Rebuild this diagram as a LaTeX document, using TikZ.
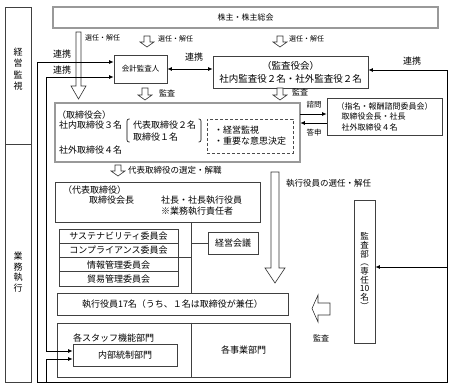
\documentclass[tikz,border=0pt]{standalone}
\usepackage{fontspec}
\setmainfont{Noto Sans CJK JP}
\usetikzlibrary{arrows.meta}

\tikzset{
  box/.style={draw=black!75, line width=0.6pt, fill=white, inner sep=0pt},
  heavybox/.style={draw=black!85, line width=0.5pt, double=black!40, double distance=1.4pt, fill=white, inner sep=0pt},
  txt/.style={font=\fontsize{9}{11}\selectfont, inner sep=0pt},
  lbl/.style={font=\fontsize{7.5}{9}\selectfont, inner sep=0pt},
  link/.style={line width=1pt, draw=black},
  hollow/.style={draw=black!80, line width=0.6pt, fill=white},
}
\newcommand{\downblock}[6]{%
  \draw[hollow] (#1-#4,#2) -- (#1+#4,#2) -- (#1+#4,#3-#6) -- (#1+#5,#3-#6)
    -- (#1,#3) -- (#1-#5,#3-#6) -- (#1-#4,#3-#6) -- cycle;}

\begin{document}
\begin{tikzpicture}[x=1pt, y=-1pt, >={Latex[length=4.5pt,width=4pt]}]
  \useasboundingbox (0,0) rectangle (453,388);
  % Spalte links
  \node[box, minimum width=26pt, minimum height=137pt] (kanshi) at (18,75.5) {};
  \node[box, minimum width=26pt, minimum height=238pt] (gyomu) at (18,263) {};
  \node[txt, align=center, font=\fontsize{9}{11.5}\selectfont] (kanshi-t) at (18,69) {経\\営\\監\\視};
  \node[txt, align=center, font=\fontsize{9}{10.5}\selectfont] (gyomu-t) at (18,272) {業\\務\\執\\行};
  % Aktionaere
  \node[heavybox, minimum width=385pt, minimum height=21pt, font=\fontsize{8}{10}\selectfont] (kabu) at (245.5,17.5) {株主・株主総会};
  \downblock{78.5}{32}{99}{2.5}{7.5}{13}
  \node[lbl, anchor=west, font=\fontsize{7}{9}\selectfont] (sel1) at (85,38) {選任・解任};
  \downblock{147}{36}{47}{3}{7}{5}
  \node[lbl, anchor=west, font=\fontsize{7}{9}\selectfont] (sel2) at (158,39) {選任・解任};
  \downblock{280}{36}{47}{3}{7}{5}
  \node[lbl, anchor=west, font=\fontsize{7}{9}\selectfont] (sel3) at (289,39) {選任・解任};
  % Pruefer
  \node[box, lbl, minimum width=53pt, minimum height=28pt] (kaikei) at (140.5,69) {会計監査人};
  \node[box, align=center, minimum width=155pt, minimum height=32pt, font=\fontsize{9.5}{13}\selectfont] (kansa) at (290.5,72) {（監査役会）\\社内監査役２名・社外監査役２名};
  \downblock{145}{88}{100}{3}{7}{5}
  \node[lbl, anchor=west, font=\fontsize{8}{10}\selectfont] (aud1) at (159,93) {監査};
  \downblock{280}{88}{100}{3}{7}{5}
  \node[lbl, anchor=west, font=\fontsize{8}{10}\selectfont] (aud2) at (292,92) {監査};
  % Vorstand
  \node[heavybox, minimum width=245pt, minimum height=59pt] (bod) at (177.5,132.5) {};
  \node[txt, anchor=west] (bod-t) at (57,115) {（取締役会）};
  \node[txt, anchor=west] (inside) at (59,125) {社内取締役３名};
  \node[txt, anchor=west] (rep2) at (133,125) {代表取締役２名};
  \node[txt, anchor=west] (dir1) at (133,137) {取締役１名};
  \node[txt, anchor=west] (outside) at (59,150) {社外取締役４名};
  \draw[rounded corners=2pt, line width=0.6pt] (129.5,119) -- (127,119) -- (127,142) -- (129.5,142);
  \draw[rounded corners=2pt, line width=0.6pt] (198.5,119) -- (201,119) -- (201,142) -- (198.5,142);
  \node[txt, draw=black!70, densely dashed, line width=0.5pt, align=left, minimum width=86pt, minimum height=34pt] (duty) at (250,136) {・経営監視\\・重要な意思決定};
  \node[box, align=left, minimum width=115pt, minimum height=37pt, font=\fontsize{8}{10.5}\selectfont] (nomi) at (384.5,116.5) {（指名・報酬諮問委員会）\\\hspace*{5pt}取締役会長・社長\\\hspace*{5pt}社外取締役４名};
  \node[lbl] (ask) at (314,105) {諮問};
  \node[lbl] (reply) at (314,133) {答申};
  % Geschaeftsfuehrung
  \downblock{118}{165}{176}{3}{7}{5}
  \node[txt, anchor=west, font=\fontsize{8.5}{10}\selectfont] (select) at (128,170) {代表取締役の選定・解職};
  \downblock{275}{172}{283}{4}{10}{15}
  \node[txt, anchor=west, font=\fontsize{8.5}{10}\selectfont] (appoint) at (286,183) {執行役員の選任・解任};
  \node[box, minimum width=205pt, minimum height=40pt] (rep) at (157.5,202) {};
  \node[txt, anchor=west] (rep-t) at (63,190) {（代表取締役）};
  \node[txt, anchor=west] (chair) at (89,200) {取締役会長};
  \node[txt, anchor=west] (pres) at (161,200) {社長・社長執行役員};
  \node[txt, anchor=west] (ceo) at (161,211) {※業務執行責任者};
  \foreach \i/\cname in {0/サステナビリティ委員会, 1/コンプライアンス委員会, 2/情報管理委員会, 3/貿易管理委員会}
    \node[box, txt, minimum width=119pt, minimum height=14.25pt] (com\i) at (118.5,236.1+14.25*\i) {\cname};
  \node[box, txt, minimum width=50pt, minimum height=22pt] (kaigi) at (233,243) {経営会議};
  \node[box, txt, minimum width=231pt, minimum height=22pt] (shikko) at (172.5,304) {執行役員17名（うち、１名は取締役が兼任）};
  \node[box, minimum width=233pt, minimum height=54pt] (dept) at (173.5,350) {};
  \node[txt, anchor=west] (staff) at (73,338) {各スタッフ機能部門};
  \node[box, txt, minimum width=104pt, minimum height=22pt] (naibu) at (125,355) {内部統制部門};
  \node[txt] (biz) at (243.5,350) {各事業部門};
  % Revision
  \node[box, minimum width=21pt, minimum height=143pt] (kansabu) at (364.5,271.5) {};
  \node[txt, align=center, font=\fontsize{8.5}{8.7}\selectfont] (kansabu-t) at (364.5,271) {監\\査\\部\\︵\\専\\任\\10\\名\\︶};
  \draw[hollow] (312,308.5) -- (318,295) -- (318,303) -- (330,303) -- (330,315) -- (318,315) -- (318,322) -- cycle;
  \node[lbl, font=\fontsize{8}{10}\selectfont] (aud3) at (321,338) {監査};
  % Verbindungen
  \coordinate (spine) at (191,222);
  \draw[line width=0.6pt, draw=black!75] (rep.south -| spine) -- (spine |- shikko.north);
  \draw[line width=0.6pt, draw=black!75] (com1.south east) -- (com1.south east -| spine);
  \draw[line width=0.6pt, draw=black!75] (kaigi.west) -- (kaigi.west -| spine);
  \draw[line width=0.6pt, draw=black!75] (dept.north -| spine) -- (dept.south -| spine);
  \draw[link, ->] (bod.east |- 0,114) -- (nomi.west |- 0,114);
  \draw[link, ->] (nomi.west |- 0,123) -- (bod.east |- 0,123);
  \draw[link, <->] (kaikei.east) -- (kaikei.east -| kansa.west);
  \coordinate (ne) at (447,70);
  \coordinate (se) at (447,382);
  \coordinate (nw) at (37,62);
  \coordinate (sw) at (37,382);
  \coordinate (w2) at (46,77);
  \coordinate (kb) at (447,267);
  \coordinate (in1) at ([yshift=4pt]naibu.west);
  \coordinate (in2) at ([yshift=-4pt]naibu.west);
  \draw[link, <->] (kansa.east |- ne) -| (se) -| (nw) -- (kaikei.west |- nw);
  \draw[link, ->] (kb) -- (kb -| kansabu.east);
  \draw[link, <->] (kaikei.west |- w2) -| (w2 |- in1) -- (in1);
  \draw[link, ->] (sw -| w2) |- (in2);
  \node[txt] (link1) at (62,54) {連携};
  \node[txt] (link2) at (62,70) {連携};
  \node[txt] (link3) at (194,57) {連携};
  \node[txt] (link4) at (412,61) {連携};
\end{tikzpicture}
\end{document}
